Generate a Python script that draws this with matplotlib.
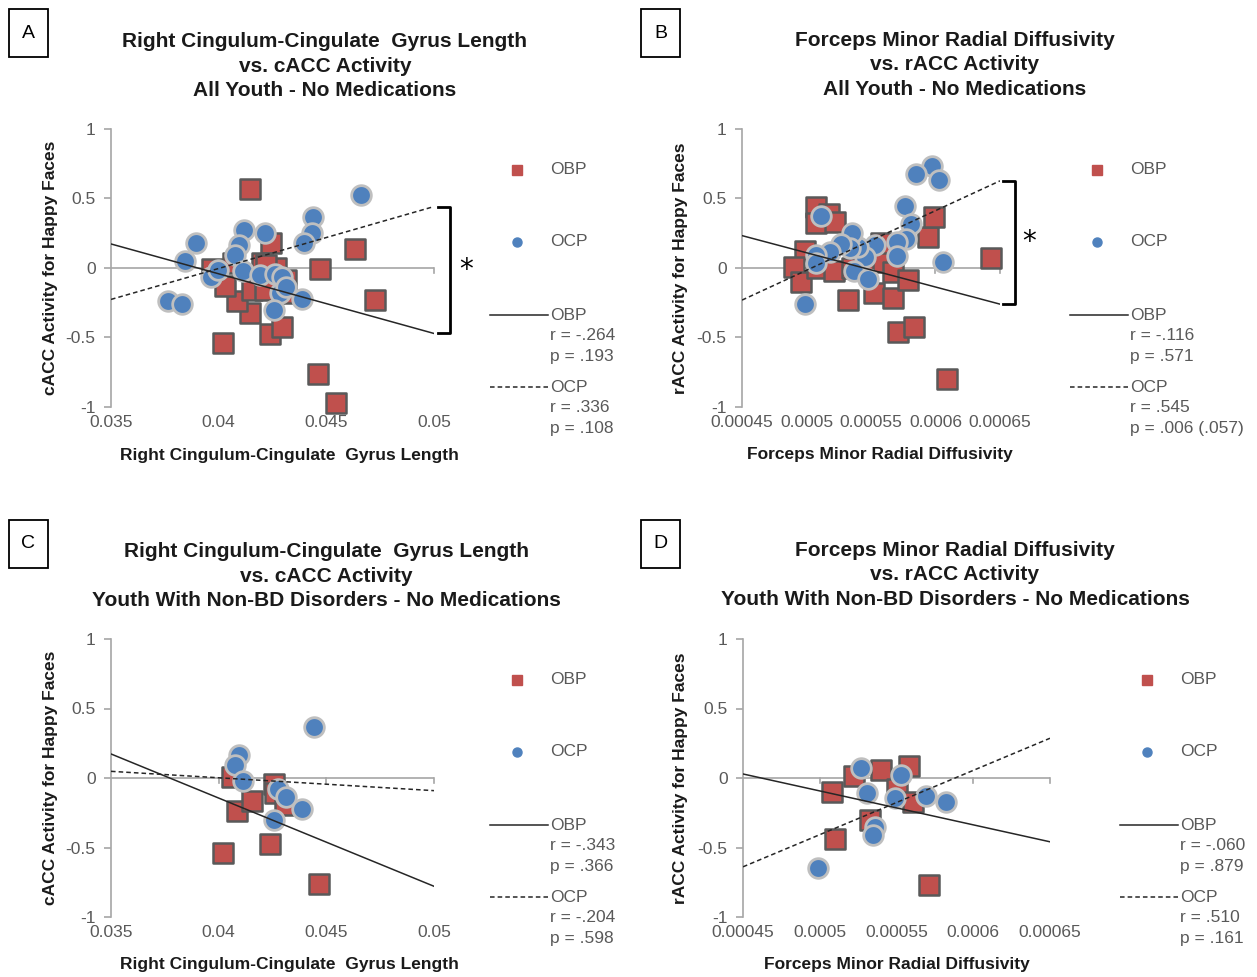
import numpy as np
import matplotlib
matplotlib.use('Agg')
import matplotlib.pyplot as plt
from matplotlib.lines import Line2D
from matplotlib.patches import Rectangle
import matplotlib.transforms as mtransforms

# ---- data ----
# Panel A : all youth, cingulum length vs cACC
a_obp_x = [0.04145, 0.04242, 0.04635, 0.04471, 0.04725, 0.04021, 0.04462, 0.04547, 0.04239,
           0.04296, 0.04145, 0.04083, 0.04029, 0.04153, 0.04214, 0.04307, 0.04315, 0.04199,
           0.04268, 0.03967, 0.04068, 0.04220]
a_obp_y = [0.57, 0.178, 0.137, -0.007, -0.231, -0.538, -0.764, -0.971, -0.476,
           -0.423, -0.322, -0.236, -0.127, -0.159, -0.159, -0.183, -0.087, 0.034,
           -0.002, -0.01, 0.034, 0.02]
a_ocp_x = [0.0466, 0.0444, 0.04434, 0.04395, 0.04214, 0.04117, 0.04094, 0.04078, 0.03894,
           0.03843, 0.03766, 0.03832, 0.03964, 0.03998, 0.04114, 0.04194, 0.04261, 0.04292,
           0.04284, 0.04315, 0.04388, 0.04258]
a_ocp_y = [0.522, 0.368, 0.25, 0.178, 0.255, 0.274, 0.166, 0.094, 0.183,
           0.053, -0.236, -0.262, -0.063, -0.014, -0.019, -0.053, -0.043, -0.063,
           -0.178, -0.139, -0.224, -0.303]
a_fit_obp = [0.173, -0.471]   # trend line values at the two x limits
a_fit_ocp = [-0.226, 0.442]

# Panel B : all youth, forceps minor RD vs rACC
b_obp_x = [0.000507, 0.0005175, 0.000507, 0.000522, 0.000499, 0.000490, 0.000496, 0.000508,
           0.000521, 0.000532, 0.000552, 0.000558, 0.000558, 0.000567, 0.000567, 0.000579,
           0.000571, 0.000583, 0.000594, 0.000599, 0.000643, 0.000609, 0.000544, 0.000535]
b_obp_y = [0.4375, 0.387, 0.327, 0.329, 0.125, 0.01, -0.101, -0.002,
           -0.019, -0.231, -0.183, 0.046, 0.178, -0.026, -0.219, -0.087,
           -0.459, -0.423, 0.221, 0.37, 0.07, -0.796, 0.01, 0.0]
b_ocp_x = [0.000597, 0.000603, 0.000585, 0.000576, 0.000581, 0.000577, 0.00057, 0.00057,
           0.000606, 0.000553, 0.000545, 0.000540, 0.000535, 0.000534, 0.000527, 0.000518,
           0.000507, 0.000507, 0.000511, 0.000537, 0.000548, 0.000499]
b_ocp_y = [0.731, 0.635, 0.678, 0.447, 0.317, 0.207, 0.19, 0.087,
           0.046, 0.163, 0.082, 0.154, 0.255, 0.142, 0.173, 0.115,
           0.091, 0.034, 0.375, -0.019, -0.079, -0.26]
b_fit_obp = [0.233, -0.26]
b_fit_ocp = [-0.231, 0.627]

# Panel C : non-BD youth, cingulum length vs cACC
c_obp_x = [0.04064, 0.04021, 0.04086, 0.04156, 0.04258, 0.04261, 0.04307, 0.04239, 0.04466]
c_obp_y = [0.01, -0.538, -0.236, -0.163, -0.043, -0.106, -0.195, -0.476, -0.76]
c_ocp_x = [0.04443, 0.04094, 0.04078, 0.04114, 0.04276, 0.04312, 0.04388, 0.04258]
c_ocp_y = [0.37, 0.166, 0.094, -0.019, -0.082, -0.139, -0.221, -0.303]
c_fit_obp = [0.173, -0.779]
c_fit_ocp = [0.048, -0.091]

# Panel D : non-BD youth, forceps minor RD vs rACC
d_obp_x = [0.000508, 0.000522, 0.00054, 0.000558, 0.00055, 0.000561, 0.000533, 0.00051, 0.000571]
d_obp_y = [-0.099, 0.014, 0.058, 0.087, -0.082, -0.171, -0.303, -0.442, -0.772]
d_ocp_x = [0.000527, 0.000553, 0.000531, 0.000549, 0.000569, 0.000582, 0.000536, 0.000535, 0.000499]
d_ocp_y = [0.075, 0.022, -0.106, -0.147, -0.127, -0.171, -0.351, -0.411, -0.644]
d_fit_obp = [0.029, -0.459]
d_fit_ocp = [-0.639, 0.286]

len_ticks = [0.035, 0.04, 0.045, 0.05]
len_labels = ['0.035', '0.04', '0.045', '0.05']
rd_ticks = [0.00045, 0.0005, 0.00055, 0.0006, 0.00065]
rd_labels = ['0.00045', '0.0005', '0.00055', '0.0006', '0.00065']
y_ticks = [-1, -0.5, 0, 0.5, 1]
y_labels = ['-1', '-0.5', '0', '0.5', '1']

stats_a = [['OBP', 'r = -.264', 'p = .193'], ['OCP', 'r = .336', 'p = .108']]
stats_b = [['OBP', 'r = -.116', 'p = .571'], ['OCP', 'r = .545', 'p = .006 (.057)']]
stats_c = [['OBP', 'r = -.343', 'p = .366'], ['OCP', 'r = -.204', 'p = .598']]
stats_d = [['OBP', 'r = -.060', 'p = .879'], ['OCP', 'r = .510', 'p = .161']]

title_len = 'Right Cingulum-Cingulate  Gyrus Length\nvs. cACC Activity\n'
title_rd = 'Forceps Minor Radial Diffusivity\nvs. rACC Activity\n'

# ---- styling ----
W, H = 1257, 977
plt.rcParams['font.family'] = ['Liberation Sans', 'DejaVu Sans']
RED = '#C0504D'
BLUE = '#4F81BD'
GRAY = '#A6A6A6'
TXT = '#595959'

fig = plt.figure(figsize=(W / 100, H / 100), dpi=100)


def fx(px):
    return px / W


def fy(py):
    return 1 - py / H


def panel(box, obp_x, obp_y, ocp_x, ocp_y, xticks, xlabels, fit_obp, fit_ocp,
          xlabel, ylabel, xlab_px, ylab_px):
    l, t, r, b = box
    ax = fig.add_axes([fx(l), fy(b), fx(r) - fx(l), (b - t) / H])
    xlim = (xticks[0], xticks[-1])
    ax.set_xlim(xlim)
    ax.set_ylim(-1, 1)
    for s in ['top', 'right', 'bottom']:
        ax.spines[s].set_visible(False)
    ax.spines['left'].set_color(GRAY)
    ax.spines['left'].set_linewidth(1.2)
    ax.set_yticks(y_ticks)
    ax.set_yticklabels(y_labels)
    ax.tick_params(axis='y', colors=GRAY, labelcolor=TXT, length=5, width=1.2,
                   labelsize=12.5, pad=6)
    ax.set_xticks(xticks)
    ax.set_xticklabels(xlabels)
    ax.tick_params(axis='x', length=0, labelcolor=TXT, labelsize=12.5, pad=6)
    # horizontal axis line at zero with small downward ticks
    ax.axhline(0, color=GRAY, lw=1.2, zorder=1)
    for tk in xticks[1:]:
        ax.plot([tk, tk], [0, -0.035], color=GRAY, lw=1.2, zorder=1, clip_on=False)

    ax.scatter(obp_x, obp_y, marker='s', s=190, color=RED, edgecolors='#595959',
               linewidths=1.8, zorder=3, clip_on=False)
    ax.scatter(ocp_x, ocp_y, marker='o', s=200, color=BLUE, edgecolors='#BFBFBF',
               linewidths=2.0, zorder=4, clip_on=False)
    ax.plot(xlim, fit_obp, color='#262626', lw=1.1, zorder=5)
    ax.plot(xlim, fit_ocp, color='#262626', lw=1.1, ls=(0, (3, 2)), zorder=5)

    ax.set_xlabel(xlabel, fontsize=12.5, fontweight='bold', color='#1a1a1a', va='center')
    ax.xaxis.set_label_coords((xlab_px[0] - l) / (r - l), (b - xlab_px[1]) / (b - t))
    ax.set_ylabel(ylabel, fontsize=12.5, fontweight='bold', color='#1a1a1a', va='center')
    ax.yaxis.set_label_coords((ylab_px[0] - l) / (r - l), (b - ylab_px[1]) / (b - t))
    return ax


def bracket(ax, fits, x0, x1, xstar):
    tr = mtransforms.blended_transform_factory(ax.transAxes, ax.transData)
    top, bot = fits
    ax.plot([x0, x1, x1, x0], [top, top, bot, bot], color='black', lw=2,
            transform=tr, clip_on=False)
    ax.text(xstar, (top + bot) / 2, '*', transform=tr, fontsize=20,
            ha='center', va='center', color='black', family='DejaVu Sans')


def legend(x0, y0, stats):
    # marker entries
    fig.add_artist(Line2D([fx(x0 + 27)], [fy(y0)], marker='s', ms=7, color=RED,
                          mec=RED, ls='none'))
    fig.text(fx(x0 + 60), fy(y0), 'OBP', fontsize=12.5, color=TXT, va='center')
    fig.add_artist(Line2D([fx(x0 + 27)], [fy(y0 + 72)], marker='o', ms=6.5, color=BLUE,
                          mec=BLUE, ls='none'))
    fig.text(fx(x0 + 60), fy(y0 + 72), 'OCP', fontsize=12.5, color=TXT, va='center')
    for k, (ls, ys) in enumerate([('-', y0 + 145), ((0, (3, 2)), y0 + 217)]):
        fig.add_artist(Line2D([fx(x0), fx(x0 + 58)], [fy(ys), fy(ys)], color='#262626',
                              lw=1.1, ls=ls))
        for j, line in enumerate(stats[k]):
            fig.text(fx(x0 + 60), fy(ys + 20.5 * j), line, fontsize=12.5, color=TXT,
                     va='center')


def label_box(x0, y0, letter):
    fig.add_artist(Rectangle((fx(x0), fy(y0 + 48)), 39 / W, 48 / H, fill=False,
                             ec='black', lw=1.3))
    fig.text(fx(x0 + 19.5), fy(y0 + 24), letter, fontsize=14, ha='center', va='center')


def title(cx, y0, text):
    fig.text(fx(cx), fy(y0), text, fontsize=15, fontweight='bold', ha='center',
             va='center', color='#1a1a1a', linespacing=1.38)


yl_c = 'cACC Activity for Happy Faces'
yl_r = 'rACC Activity for Happy Faces'
xl_len = 'Right Cingulum-Cingulate  Gyrus Length'
xl_rd = 'Forceps Minor Radial Diffusivity'

ax_a = panel((111, 129, 434, 407), a_obp_x, a_obp_y, a_ocp_x, a_ocp_y, len_ticks,
             len_labels, a_fit_obp, a_fit_ocp, xl_len, yl_c, (289, 456), (50, 268))
ax_b = panel((742, 129, 1000, 407), b_obp_x, b_obp_y, b_ocp_x, b_ocp_y, rd_ticks,
             rd_labels, b_fit_obp, b_fit_ocp, xl_rd, yl_r, (880, 455), (681, 268))
ax_c = panel((111, 639, 434, 917), c_obp_x, c_obp_y, c_ocp_x, c_ocp_y, len_ticks,
             len_labels, c_fit_obp, c_fit_ocp, xl_len, yl_c, (289, 965), (50, 778))
ax_d = panel((743, 639, 1050, 917), d_obp_x, d_obp_y, d_ocp_x, d_ocp_y, rd_ticks,
             rd_labels, d_fit_obp, d_fit_ocp, xl_rd, yl_r, (897, 964), (681, 778))

bracket(ax_a, (a_fit_ocp[1], a_fit_obp[1]), 1.012, 1.05, 1.1)
bracket(ax_b, (b_fit_ocp[1], b_fit_obp[1]), 1.013, 1.058, 1.112)

legend(490, 170, stats_a)
legend(1070, 170, stats_b)
legend(490, 680, stats_c)
legend(1120, 680, stats_d)

label_box(9, 9, 'A')
label_box(641, 9, 'B')
label_box(9, 520, 'C')
label_box(641, 520, 'D')

title(325, 66, title_len + 'All Youth - No Medications')
title(955, 65, title_rd + 'All Youth - No Medications')
title(326, 576, title_len + 'Youth With Non-BD Disorders - No Medications')
title(955, 575, title_rd + 'Youth With Non-BD Disorders - No Medications')

fig.savefig('out.png', dpi=100, facecolor='white')
